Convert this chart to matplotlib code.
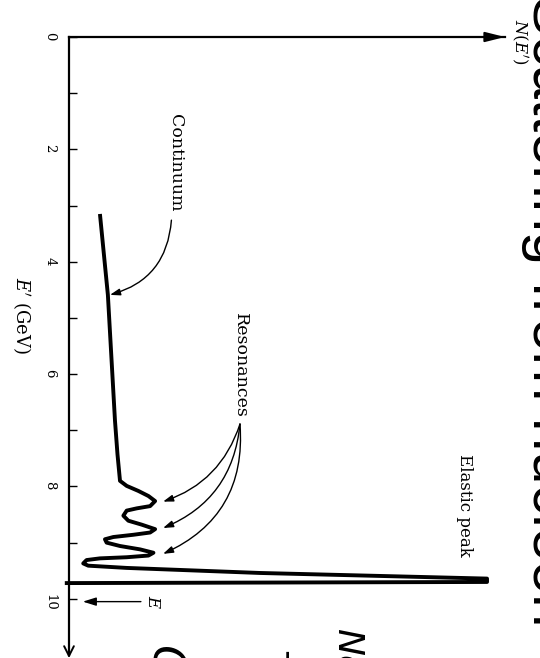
import numpy as np
import matplotlib as mpl
mpl.use('Agg')
from matplotlib import pyplot as plt

# ---------------------------------------------------------------------------
# spectrum N(E') versus scattered energy E' (GeV)
ePrime = [3.15, 4.59, 6.83, 7.43, 7.90, 7.99, 8.08, 8.17, 8.26, 8.35,
          8.39, 8.43, 8.52, 8.61, 8.68, 8.76, 8.82, 8.86, 8.90, 8.94,
          9.00, 9.06, 9.12, 9.18, 9.23, 9.26, 9.28, 9.31, 9.37, 9.41,
          9.45, 9.54, 9.64, 9.70, 9.72]
nVals = [0.74, 0.93, 1.10, 1.16, 1.22, 1.38, 1.66, 1.90, 2.06, 1.94,
         1.62, 1.38, 1.30, 1.42, 1.74, 2.06, 1.94, 1.54, 1.06, 0.86,
         0.90, 1.22, 1.70, 2.02, 1.90, 1.38, 0.74, 0.42, 0.34, 0.46,
         1.38, 4.57, 10.0, 10.0, -0.1]

majorTicks = [0, 2, 4, 6, 8, 10]
minorTicks = [1, 3, 5, 7, 9]
tickLabels = ['0', '2', '4', '6', '8', '10']

resonanceE = [8.27, 8.74, 9.20]   # where the resonance arrows point
incidentE = 10.05                 # beam energy E

mpl.rcParams['font.family'] = 'DejaVu Serif'
mpl.rcParams['mathtext.fontset'] = 'dejavuserif'

fig = plt.figure(figsize=(5.4, 6.58), dpi=100)
ax = fig.add_axes([69 / 540, 3 / 658, 436 / 540, 618 / 658])

ax.spines['right'].set_visible(False)
ax.spines['bottom'].set_visible(False)
ax.spines['left'].set_linewidth(1.6)
ax.spines['top'].set_linewidth(1.6)

ax.set_xlim(0.0, 10.43)
ax.set_ylim(11.0, 0.0)

ax.set_xticks([])
ax.set_yticks(majorTicks)
ax.set_yticklabels(tickLabels)
ax.set_yticks(minorTicks, minor=True)
ax.tick_params(axis='y', which='both', direction='in', length=6, width=1.0)
ax.tick_params(axis='y', which='major', pad=9, labelsize=9.5, labelrotation=-90)

# curve
ax.plot(nVals, ePrime, color='black', lw=2.8, solid_joinstyle='round',
        solid_capstyle='butt', clip_on=False, zorder=3)

# axis arrowheads
ax.annotate('', xy=(1.0, 1.0), xytext=(0.95, 1.0), xycoords='axes fraction',
            arrowprops=dict(arrowstyle='-|>,head_length=1.2,head_width=0.3',
                            lw=1.4, color='black', shrinkA=0, shrinkB=0))
ax.annotate('', xy=(0.0, -0.005), xytext=(0.0, 0.03), xycoords='axes fraction',
            arrowprops=dict(arrowstyle='->,head_length=0.7,head_width=0.35',
                            lw=1.4, color='black', shrinkA=0, shrinkB=0))

# labels
ax.set_ylabel(r"$E'$ (GeV)", rotation=-90, fontsize=13, va='center', ha='center')
ax.yaxis.set_label_coords(-0.108, 0.549)
ax.text(10.78, 0.09, r"$N(E')$", rotation=-90, ha='center', va='center',
        fontsize=12, clip_on=False)

# beam energy marker
ax.annotate('', xy=(0.33, incidentE), xytext=(1.72, incidentE),
            arrowprops=dict(arrowstyle='-|>,head_length=0.8,head_width=0.25',
                            lw=1.0, color='black', shrinkA=0, shrinkB=0))
ax.text(2.0, incidentE, r'$E$', rotation=-90, ha='center', va='center', fontsize=12)

# annotations
ax.text(2.54, 2.24, 'Continuum', rotation=-90, ha='center', va='center', fontsize=12.5)
ax.annotate('', xy=(0.98, 4.59), xytext=(2.45, 3.26),
            arrowprops=dict(arrowstyle='-|>,head_length=0.6,head_width=0.2',
                            lw=1.0, color='black', shrinkA=0, shrinkB=0,
                            connectionstyle='arc3,rad=-0.35'))

ax.text(4.11, 5.85, 'Resonances', rotation=-90, ha='center', va='center', fontsize=12.5)
for eRes, rad in zip(resonanceE, [-0.25, -0.3, -0.35]):
    ax.annotate('', xy=(2.25, eRes), xytext=(4.09, 6.89),
                arrowprops=dict(arrowstyle='-|>,head_length=0.6,head_width=0.2',
                                lw=1.0, color='black', shrinkA=0, shrinkB=0,
                                connectionstyle='arc3,rad=%.2f' % rad))

ax.text(9.45, 8.33, 'Elastic peak', rotation=-90, ha='center', va='center', fontsize=12)

# page heading and fragments of the scanned page, cut by the edges
fig.text(533 / 540, 1.0 + 5 / 658, 'Scattering from nucleon', rotation=-90,
         rotation_mode='anchor', ha='left', va='baseline', fontsize=43,
         family='Liberation Sans')
fig.text(338 / 540, 1 - 628 / 658, 'Nc', rotation=-90, rotation_mode='anchor',
         ha='left', va='baseline', fontsize=26, family='DejaVu Sans', style='italic')
fig.text(262 / 540, 1 - 650 / 658, 'T', rotation=-90, rotation_mode='anchor',
         ha='left', va='baseline', fontsize=26, family='DejaVu Sans')
fig.text(150 / 540, 1 - 646 / 658, 'G', rotation=-90, rotation_mode='anchor',
         ha='left', va='baseline', fontsize=32, family='DejaVu Sans', style='italic')

fig.savefig('out.png', dpi=100, facecolor='white')
